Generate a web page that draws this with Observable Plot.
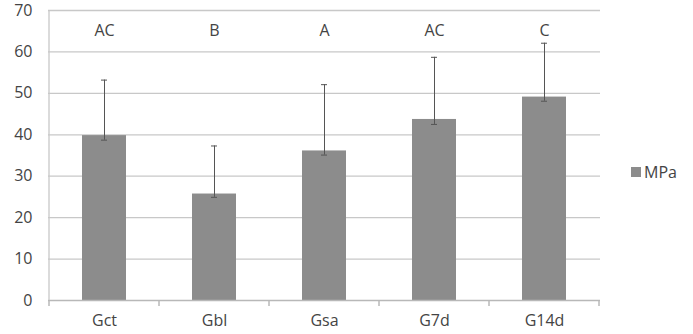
<!DOCTYPE html>
<html><head><meta charset="utf-8">
<script src="https://cdn.jsdelivr.net/npm/d3@7"></script>
<script src="https://cdn.jsdelivr.net/npm/@observablehq/plot@0.6"></script>
<style>
body{margin:0;background:#fff;font-family:"Open Sans",sans-serif;}
#wrap{position:relative;width:693px;height:334px;}
#legend{position:absolute;left:631px;top:161px;font-size:16px;color:#444;display:flex;align-items:center;gap:3px;}
#legend span.sw{display:inline-block;width:10px;height:10px;background:#8c8c8c;}
</style></head>
<body><div id="wrap"><div id="legend"><span class="sw"></span><span>MPa</span></div></div>
<script>
const groups = ["Gct", "Gbl", "Gsa", "G7d", "G14d"];
const means = [39.8, 25.7, 36.1, 43.7, 49.1];
const errHigh = [53.2, 37.3, 52.1, 58.7, 62.1];
const errLow = [38.7, 24.9, 35.1, 42.5, 48.1];
const letters = ["AC", "B", "A", "AC", "C"];
const yTicks = [0, 10, 20, 30, 40, 50, 60, 70];
const seriesName = "MPa";

const data = groups.map((g, i) => ({g, mean: means[i], hi: errHigh[i], lo: errLow[i], letter: letters[i]}));

const plot = Plot.plot({
  width: 693, height: 334,
  marginLeft: 48, marginRight: 93, marginTop: 10, marginBottom: 34,
  style: {fontFamily: "Open Sans, sans-serif", fontSize: "16px", color: "#444", background: "white", overflow: "visible"},
  x: {domain: groups, paddingInner: 0.6, paddingOuter: 0.3, label: null},
  y: {domain: [0, 70], label: null},
  marks: [
    Plot.ruleY(yTicks.filter(d => d > 0), {stroke: "#c8c8c8", strokeWidth: 1.3}),
    Plot.barY(data, {x: "g", y: "mean", fill: "#8c8c8c"}),
    Plot.ruleX(data, {x: "g", y1: "lo", y2: "hi", stroke: "#555", strokeWidth: 1}),
    Plot.tickY(data, {x: "g", y: "hi", stroke: "#555", insetLeft: 19, insetRight: 19}),
    Plot.tickY(data, {x: "g", y: "lo", stroke: "#555", insetLeft: 19, insetRight: 19}),
    Plot.text(data, {x: "g", y: () => 65, text: "letter", fill: "#444", fontSize: 16}),
    Plot.ruleY([0], {stroke: "#b8b8b8", strokeWidth: 1.5}),
    Plot.axisY({ticks: yTicks, tickSize: 0, tickPadding: 16, fill: "#444", fontSize: 16}),
    Plot.axisX({tickSize: 0, tickPadding: 14, fill: "#444", fontSize: 16})
  ]
});
document.getElementById("wrap").prepend(plot);

// category boundary ticks below the axis, from the plot's band scale
const xs = plot.scale("x");
const ys = plot.scale("y");
const y0 = ys.apply(0);
const gap = (xs.step - xs.bandwidth) / 2;
const bounds = groups.map(g => xs.apply(g) - gap);
bounds.push(xs.apply(groups[groups.length - 1]) + xs.bandwidth + gap);
const svg = d3.select(plot);
svg.append("g").selectAll("line").data(bounds).join("line")
  .attr("x1", d => d).attr("x2", d => d)
  .attr("y1", y0).attr("y2", y0 + 6)
  .attr("stroke", "#b8b8b8").attr("stroke-width", 1.5);
svg.append("line").attr("x1", bounds[0]).attr("x2", bounds[0])
  .attr("y1", ys.apply(70)).attr("y2", y0)
  .attr("stroke", "#c8c8c8").attr("stroke-width", 1.3);
</script></body></html>
